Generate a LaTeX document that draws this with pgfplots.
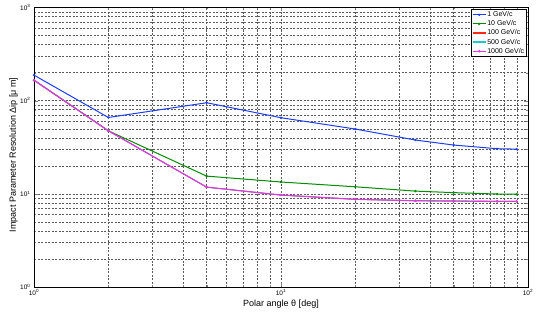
\documentclass[border=0pt]{standalone}
\usepackage{fontspec}
\setmainfont{Liberation Sans}
\usepackage{pgfplots}
\pgfplotsset{compat=1.18}
\definecolor{cblue}{RGB}{30,60,255}
\definecolor{cgreen}{RGB}{0,140,0}
\definecolor{cred}{RGB}{255,40,20}
\definecolor{ccyan}{RGB}{30,200,200}
\definecolor{cmag}{RGB}{225,55,225}
\definecolor{gridc}{RGB}{90,90,90}
\begin{document}
\begin{tikzpicture}
\begin{axis}[
  name=main,
  scale only axis,
  width=494pt, height=279.5pt,
  xmode=log, ymode=log,
  xmin=1, xmax=100, ymin=1, ymax=1000,
  xtick={1,10,100},
  xticklabels={10\textsuperscript{0},10\textsuperscript{1},10\textsuperscript{2}},
  ytick={1,10,100,1000},
  yticklabels={10\textsuperscript{0},10\textsuperscript{1},10\textsuperscript{2},10\textsuperscript{3}},
  ticklabel style={font=\fontsize{6.5}{7}\selectfont},
  xticklabel style={yshift=1pt},
  grid=both,
  major grid style={gridc, line width=0.4pt, dash pattern=on 2pt off 1.5pt},
  minor grid style={gridc, line width=0.4pt, dash pattern=on 2pt off 1.5pt},
  tick align=inside,
  major tick length=4pt, minor tick length=2pt,
  axis line style={black, line width=0.6pt},
  xlabel={Polar angle θ [deg]},
  ylabel={Impact Parameter Resolution Δip [μ m]},
  label style={font=\fontsize{9}{11}\selectfont},
  xlabel style={at={(axis description cs:0.5,-0.0608)}, anchor=center},
  ylabel style={at={(axis description cs:-0.0415,0.472)}, anchor=center},
  legend style={at={(axis description cs:1,1)}, anchor=north east,
    xshift=-1.5pt, yshift=-1.5pt, font=\fontsize{7}{8}\selectfont,
    draw=black, line width=0.5pt, inner sep=1pt, row sep=0pt,
    nodes={inner sep=1pt, text height=5.5pt, text depth=1.6pt}},
  legend cell align=left,
  legend image code/.code={\draw[#1, line width=1.2pt] (0pt,0pt) -- (13pt,0pt); \path[#1, mark repeat=1] plot coordinates {(6.5pt,0pt)};},
  every axis plot/.append style={line width=1pt, mark=*, mark size=0.6pt},
]
\addplot[cblue, mark options={fill=cblue}] coordinates {
 (1,188) (2,66) (5,95) (10,65.6) (20,49.6) (35,37.8) (50,33.4) (75,30.5) (90,30.2)};
\addlegendentry{1 GeV/c}
\addplot[cgreen, mark options={fill=cgreen}] coordinates {
 (1,166) (2,47.5) (5,15.5) (10,13.4) (20,11.9) (35,10.7) (50,10.3) (75,9.95) (90,9.9)};
\addlegendentry{10 GeV/c}
\addplot[cred, mark options={fill=cred}, line width=0.8pt] coordinates {
 (1,166) (2,47.5) (5,11.8) (10,9.7) (20,8.73) (35,8.43) (50,8.37) (75,8.3) (90,8.3)};
\addlegendentry{100 GeV/c}
\addplot[ccyan, mark options={fill=ccyan}, line width=0.8pt] coordinates {
 (1,166) (2,47.5) (5,11.8) (10,9.7) (20,8.73) (35,8.43) (50,8.37) (75,8.3) (90,8.3)};
\addlegendentry{500 GeV/c}
\addplot[cmag, mark options={fill=cmag}, line width=1.1pt] coordinates {
 (1,166) (2,47.5) (5,11.8) (10,9.7) (20,8.73) (35,8.43) (50,8.37) (75,8.3) (90,8.3)};
\addlegendentry{1000 GeV/c}
\end{axis}
\pgfresetboundingbox
\path ([shift={(-34pt,-24pt)}]main.south west) rectangle ([shift={(12pt,7.5pt)}]main.north east);
\end{tikzpicture}
\end{document}
